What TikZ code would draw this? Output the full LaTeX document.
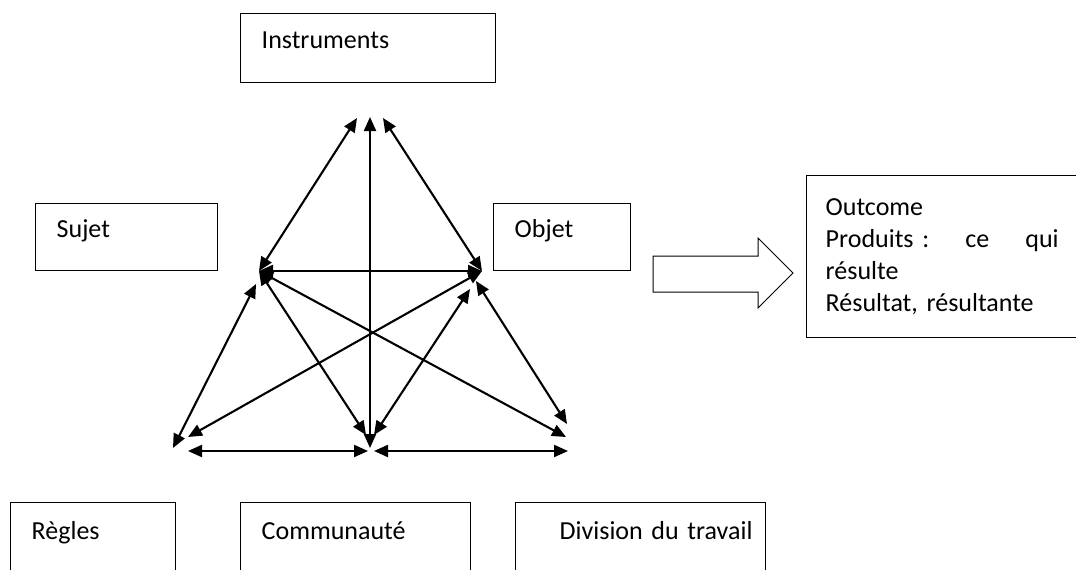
\documentclass[tikz,border=0pt]{standalone}
\usepackage{fontspec}
\setmainfont{Carlito}
\usetikzlibrary{arrows.meta}
\tikzset{
    plain-box/.style = {draw=black, line width=1.4pt, rectangle, anchor=north west, align=left, inner xsep=21pt, inner ysep=0pt, text height=17pt, text depth=16pt, font=\fontsize{26}{32}\selectfont},
    outcome-box/.style = {draw=black, line width=1.4pt, rectangle, anchor=north west, align=left, inner xsep=19pt, font=\fontsize{26}{32}\selectfont},
    double-link/.style = {{Triangle[length=14pt,width=12pt]}-{Triangle[length=14pt,width=12pt]}, line width=2.1pt},
}

\begin{document}
\begin{tikzpicture}[x=1pt, y=-1pt]
\useasboundingbox (0,0) rectangle (1076,570);

\node[plain-box, text width=213pt, minimum height=69pt] (instruments) at (240,13) {Instruments};
\node[plain-box, text width=140pt, minimum height=67pt] (sujet) at (35,203) {Sujet};
\node[plain-box, text width=95pt, minimum height=67pt] (objet) at (493,203) {Objet};
\node[plain-box, text width=123pt, minimum height=72pt] (regles) at (10,502) {Règles};
\node[plain-box, text width=188pt, minimum height=72pt] (communaute) at (240,502) {Communauté};
\node[plain-box, text width=208pt, minimum height=72pt] (division) at (515,502) {\hspace*{23pt}\mbox{Division du travail}};
\node[outcome-box, text width=233pt, minimum height=162pt] (outcome) at (806,175) {Outcome\\
    \makebox[233pt][l]{Produits~:\hfill ce\hfill qui}\\
    résulte\\
    Résultat, résultante};

% big arrow towards the outcome
\draw[line width=1pt] (653,256) -- (758,256) -- (758,238) -- (793,273) -- (758,308) -- (758,292) -- (653,292) -- cycle;

% corners of the triangle
\coordinate (apex-l) at (357,118);
\coordinate (apex-c) at (370,117);
\coordinate (apex-r) at (383,118);
\coordinate (sujet-a) at (259,271);
\coordinate (sujet-b) at (256,284);
\coordinate (objet-a) at (482,271);
\coordinate (objet-b) at (470,289);
\coordinate (objet-c) at (476,281);
\coordinate (regles-a) at (173,448);
\coordinate (regles-b) at (188,437);
\coordinate (regles-c) at (188,451);
\coordinate (comm-a) at (370,448);
\coordinate (comm-l) at (366,435);
\coordinate (comm-r) at (374,435);
\coordinate (comm-bl) at (368,451);
\coordinate (comm-br) at (374,451);
\coordinate (div-a) at (567,424);
\coordinate (div-b) at (566,437);
\coordinate (div-c) at (568,451);

\draw[double-link] (sujet-a) -- (apex-l);
\draw[double-link] (apex-c) -- (comm-a);
\draw[double-link] (apex-r) -- (objet-a);
\draw[double-link] (sujet-a) -- (objet-a);
\draw[double-link] (regles-a) -- (sujet-b);
\draw[double-link] (regles-b) -- (objet-a);
\draw[double-link] (sujet-a) -- (comm-l);
\draw[double-link] (sujet-a) -- (div-b);
\draw[double-link] (objet-b) -- (comm-r);
\draw[double-link] (objet-c) -- (div-a);
\draw[double-link] (regles-c) -- (comm-bl);
\draw[double-link] (comm-br) -- (div-c);
\end{tikzpicture}
\end{document}
